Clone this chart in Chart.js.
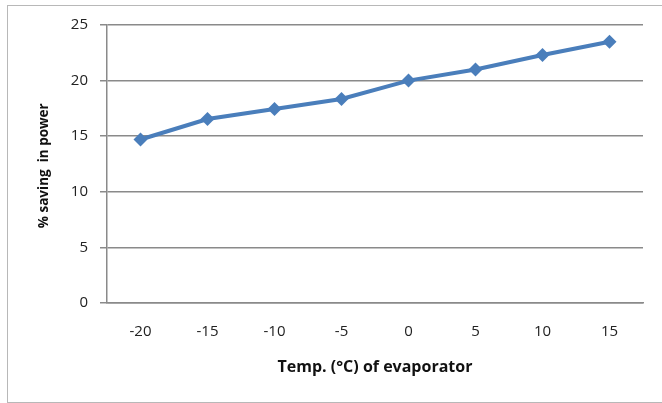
<!DOCTYPE html>
<html>
<head>
<meta charset="utf-8">
<script src="https://cdn.jsdelivr.net/npm/chart.js@4/dist/chart.umd.min.js"></script>
<style>
  body { margin: 0; background: #fff; }
  #wrap { position: absolute; left: 0; top: 0; width: 662px; height: 403px; }
  #frame { position: absolute; left: 7px; top: 5px; width: 660px; height: 396px;
           border-left: 1px solid #b8b8b8; border-top: 1px solid #b8b8b8; border-bottom: 1px solid #b8b8b8; }
</style>
</head>
<body>
<div id="wrap">
  <div id="frame"></div>
  <canvas id="chart" width="662" height="403"></canvas>
</div>
<script>
var temps = ["-20", "-15", "-10", "-5", "0", "5", "10", "15"];
var saving = [14.7, 16.55, 17.45, 18.35, 20.0, 21.0, 22.3, 23.5];
var yTicks = [0, 5, 10, 15, 20, 25];

var blue = "#4a7ebb";
var font = "'Open Sans', Lato, sans-serif";

var ctx = document.getElementById("chart").getContext("2d");
var chart = new Chart(ctx, {
  type: "line",
  data: {
    labels: temps,
    datasets: [{
      data: saving,
      borderColor: blue,
      backgroundColor: blue,
      borderWidth: 4,
      pointStyle: "rectRot",
      pointRadius: 7,
      pointBorderWidth: 0,
      tension: 0
    }]
  },
  options: {
    responsive: false,
    animation: false,
    layout: { padding: { left: 0, right: 19, top: 25, bottom: 0 } },
    plugins: { legend: { display: false }, tooltip: { enabled: false } },
    scales: {
      x: {
        offset: true,
        grid: { display: false, drawTicks: false },
        border: { color: "#8a8a8a", width: 1.5 },
        ticks: { color: "#222", font: { family: font, size: 15 }, padding: 20 },
        title: { display: true, text: "Temp. (°C) of evaporator", color: "#111",
                 font: { family: font, size: 16, weight: "bold" }, padding: { top: 0, bottom: 26 } },
        afterFit: function (s) { s.height = 100; }
      },
      y: {
        min: 0, max: 25,
        afterBuildTicks: function (s) { s.ticks = yTicks.map(function (v) { return { value: v }; }); },
        grid: { color: "#8a8a8a", lineWidth: 1.5, tickLength: 7 },
        border: { color: "#8a8a8a", width: 1.5 },
        ticks: { color: "#222", font: { family: font, size: 15 }, padding: 12 },
        title: { display: true, text: "% saving  in power ", color: "#111",
                 font: { family: font, size: 13.5, weight: "bold" }, padding: { top: 36, bottom: 0 } },
        afterFit: function (s) { s.width = 107; }
      }
    }
  }
});
</script>
</body>
</html>
